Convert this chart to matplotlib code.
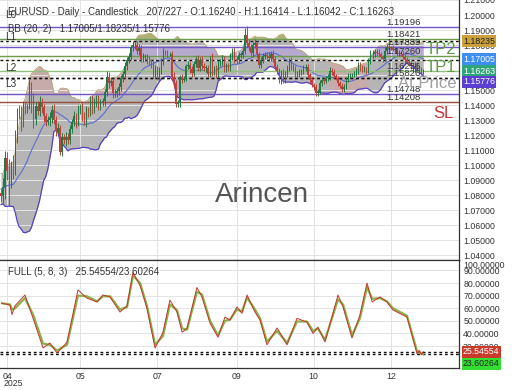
import matplotlib
matplotlib.use('Agg')
import matplotlib.pyplot as plt
import numpy as np
import pandas as pd

plt.rcParams['font.family'] = ['Liberation Sans', 'DejaVu Sans']

# ---------------- data ----------------
pre_closes = [1.0626, 1.0790, 1.0784, 1.0833, 1.0834, 1.0918, 1.0890, 1.0853, 1.0879, 1.0922,
              1.0943, 1.0899, 1.0853, 1.0816, 1.0801, 1.0790, 1.0752, 1.0800, 1.0829, 1.0816]

closes_apr = [1.0794, 1.0852, 1.1048, 1.0960, 1.0910, 1.0958, 1.0950, 1.1195, 1.1358, 1.1350, 1.1285,
              1.1398, 1.1366, 1.1395, 1.1512, 1.1417, 1.1310, 1.1392, 1.1363, 1.1420, 1.1385, 1.1328]
closes_may = [1.1290, 1.1298, 1.1315, 1.1370, 1.1300, 1.1230, 1.1250, 1.1090, 1.1190, 1.1170, 1.1190,
              1.1165, 1.1240, 1.1285, 1.1330, 1.1280, 1.1365, 1.1385, 1.1325, 1.1290, 1.1370, 1.1350]
closes_jun = [1.1440, 1.1370, 1.1420, 1.1445, 1.1395, 1.1420, 1.1425, 1.1485, 1.1585, 1.1550, 1.1560,
              1.1480, 1.1480, 1.1495, 1.1520, 1.1580, 1.1610, 1.1660, 1.1700, 1.1720, 1.1787]
closes_jul = [1.1800, 1.1800, 1.1760, 1.1780, 1.1710, 1.1720, 1.1720, 1.1700, 1.1690, 1.1670, 1.1600,
              1.1640, 1.1595, 1.1625, 1.1690, 1.1755, 1.1750, 1.1740, 1.1740, 1.1590, 1.1545, 1.1410, 1.1415]
closes_aug = [1.1585, 1.1570, 1.1575, 1.1660, 1.1665, 1.1640, 1.1615, 1.1675, 1.1705, 1.1650, 1.1700,
              1.1660, 1.1650, 1.1650, 1.1610, 1.1720, 1.1620, 1.1640, 1.1605, 1.1680, 1.1685]
closes_sep = [1.1710, 1.1645, 1.1660, 1.1645, 1.1720, 1.1760, 1.1710, 1.1700, 1.1735, 1.1735, 1.1760,
              1.1865, 1.1815, 1.1785, 1.1745, 1.1800, 1.1815, 1.1740, 1.1665, 1.1700, 1.1725, 1.1735]
closes_oct = [1.1730, 1.1715, 1.1740, 1.1710, 1.1655, 1.1630, 1.1565, 1.1615, 1.1570, 1.1605, 1.1645,
              1.1690, 1.1655, 1.1645, 1.1605, 1.1610, 1.1620, 1.1625, 1.1645, 1.1655, 1.1600, 1.1565, 1.1535]
closes_nov = [1.1520, 1.1480, 1.1490, 1.1545, 1.1565, 1.1560, 1.1580, 1.1590, 1.1630, 1.1620,
              1.1595, 1.1580, 1.1545, 1.1530, 1.1510, 1.1520, 1.1570, 1.1595, 1.1600, 1.1600]
closes_dec = [1.1610, 1.1625, 1.1665, 1.1645, 1.1640, 1.1640, 1.1630, 1.1695, 1.1740, 1.1740, 1.1755,
              1.1750, 1.1740, 1.1720, 1.1710, 1.1760, 1.1790, 1.1780, 1.1785, 1.1770, 1.1770, 1.1745, 1.1745]
closes_jan = [1.1740, 1.1720, 1.1700, 1.1690, 1.1680, 1.1660, 1.1640, 1.1665, 1.1645, 1.1640, 1.1624, 1.16263]

up_wick_pips = (
    [25, 60, 45, 40, 80, 70, 110, 40, 25, 40, 45, 30, 20, 15, 60, 40, 60, 25, 35, 40, 30, 25] +
    [20, 30, 40, 30, 35, 25, 30, 20, 25, 20, 30, 25, 30, 25, 30, 20, 35, 25, 30, 30, 25, 20] +
    [20, 30, 25, 25, 20, 20, 20, 25, 45, 35, 25, 20, 30, 20, 25, 20, 20, 30, 20, 25, 15] +
    [25, 20, 30, 25, 20, 25, 20, 20, 25, 20, 35, 30, 20, 30, 25, 25, 15, 20, 15, 20, 30, 25, 20] +
    [15, 25, 20, 15, 30, 25, 20, 20, 20, 30, 20, 25, 20, 20, 20, 10, 30, 20, 25, 20, 20] +
    [25, 20, 20, 20, 25, 20, 30, 20, 20, 20, 20, 50, 65, 25, 20, 20, 25, 15, 15, 20, 20, 20] +
    [20, 25, 20, 25, 20, 20, 15, 20, 25, 20, 20, 25, 30, 20, 15, 15, 20, 15, 20, 20, 20, 15, 15] +
    [15, 20, 15, 20, 20, 15, 15, 20, 25, 20, 20, 15, 15, 15, 15, 20, 20, 20, 15, 15] +
    [20, 20, 20, 25, 20, 20, 15, 20, 30, 25, 20, 20, 25, 15, 15, 25, 20, 15, 10, 15, 15, 20, 20] +
    [10, 20, 20, 20, 15, 15, 20, 25, 20, 20, 15, 15])
dn_wick_pips = (
    [40, 45, 80, 60, 180, 60, 40, 15, 45, 40, 60, 30, 25, 20, 20, 70, 60, 40, 30, 35, 35, 40] +
    [30, 25, 40, 35, 25, 35, 25, 25, 30, 30, 40, 25, 25, 25, 25, 35, 20, 25, 30, 25, 35, 30] +
    [20, 30, 25, 30, 25, 25, 25, 30, 25, 35, 25, 30, 25, 25, 30, 25, 25, 20, 25, 20, 20] +
    [25, 25, 20, 25, 20, 20, 25, 25, 20, 25, 20, 25, 25, 30, 20, 25, 15, 20, 15, 20, 30, 25, 25] +
    [25, 20, 15, 15, 20, 25, 25, 20, 20, 20, 25, 20, 25, 30, 20, 25, 25, 20, 25, 20, 20] +
    [20, 25, 25, 20, 20, 20, 30, 25, 20, 20, 20, 20, 30, 25, 20, 25, 20, 25, 15, 15, 20, 20] +
    [25, 15, 20, 20, 20, 20, 20, 25, 20, 20, 20, 15, 20, 20, 15, 15, 20, 20, 20, 20, 20, 20, 15] +
    [20, 20, 20, 15, 20, 20, 15, 20, 20, 20, 15, 15, 20, 15, 20, 20, 15, 15, 15, 15] +
    [15, 15, 15, 20, 20, 20, 20, 15, 20, 25, 20, 20, 20, 15, 20, 15, 20, 15, 10, 10, 20, 15, 15] +
    [15, 15, 20, 15, 20, 20, 20, 20, 15, 20, 25, 20])

month_ticks = [3, 39, 77, 116, 154, 192]
month_labels = ['04', '05', '07', '09', '10', '12']
year_label = '2025'

level_prices = [1.19196, 1.18421, 1.17889, 1.17260, 1.16256, 1.15826, 1.14748, 1.14208]
level_texts = ['1.19196', '1.18421', '1.17889', '1.17260', '1.16256', '1.15826', '1.14748', '1.14208']
level_colors = ['#6f55c8', '#6d9a4e', '#6f55c8', '#6d9a4e', '#8fbf7a', '#222222', '#6f55c8', '#9b4a3c']
level_styles = ['-', '-', '-', '-', '-', ':', '-', '-']

bb_mid_last, bb_up_last, bb_lo_last = 1.17005, 1.18235, 1.15776
last_close = 1.16263
title_text = 'EURUSD - Daily - Candlestick   207/227 - O:1.16240 - H:1.16414 - L:1.16042 - C:1.16263'
bb_text = 'BB (20, 2)   1.17005/1.18235/1.15776'
stoch_text = 'FULL (5, 8, 3)   25.54554/23.60264'
stoch_k_last, stoch_d_last = 25.54554, 23.60264

stoch_bar = [0.5, 4.4, 5.4, 6.9, 11.8, 15.8, 20.7, 24.1, 27.6, 32.5, 37.9, 42.4, 47.3, 50.2, 53.7, 58.6,
             62.1, 65.0, 68.5, 71.9, 75.9, 79.8, 83.2, 86.7, 89.2, 91.6, 96.5, 99.0, 103.0, 106.9, 110.3,
             112.8, 116.2, 118.7, 121.2, 125.1, 127.6, 131.0, 136.0, 140.9, 145.8, 150.7, 153.7, 156.1,
             159.6, 166.0, 168.5, 172.9, 176.8, 180.3, 182.8, 186.7, 190.1, 193.1, 200.0, 204.9, 206.0,
             207.0, 208.0]
stoch_k = [64, 62.6, 55, 62, 70.5, 52, 28.5, 32.4, 24.5, 33, 74.5, 68, 65, 70.5, 69, 57, 62, 88.5, 78, 60,
           28.5, 41, 66.5, 57, 41, 44, 76.5, 69, 48, 37, 53, 50.6, 61, 56, 70.5, 57, 50.7, 31, 44.4, 31,
           52, 49, 40, 45, 33.3, 70.5, 61, 36.4, 54.7, 80, 65, 69, 65, 58.6, 53, 24, 26.5, 23, 25.5]
stoch_d = [64, 63, 59, 60, 68, 55, 32, 31, 26.5, 31, 70, 69.5, 65.5, 69.5, 69.5, 59, 61, 86, 80, 62, 31,
           38, 63, 58.5, 44, 43, 73, 71, 50, 38.5, 50, 51, 59, 57.5, 68.5, 59, 52, 33.5, 42, 32.5, 49.5,
           49.5, 42, 44, 35, 67, 63, 38.5, 52, 77, 67.5, 68, 65.5, 60, 54, 26, 25.5, 24.5, 23.6]

# ---------------- derived ----------------
closes = (closes_apr + closes_may + closes_jun + closes_jul + closes_aug + closes_sep +
          closes_oct + closes_nov + closes_dec + closes_jan)
n = len(closes)
opens = [pre_closes[-1]] + closes[:-1]
opens[-1] = 1.16240
highs = [max(o, c) + u * 1e-4 for o, c, u in zip(opens, closes, up_wick_pips)]
lows = [min(o, c) - d * 1e-4 for o, c, d in zip(opens, closes, dn_wick_pips)]
xs = np.arange(n)

allc = pd.Series(pre_closes + closes)
mid = allc.rolling(20).mean().values[-n:]
sd = allc.rolling(20).std(ddof=0).values[-n:]
upper = mid + 2 * sd
lower = mid - 2 * sd

# ---------------- figure ----------------
W, H = 520, 390
fig = plt.figure(figsize=(W / 100, H / 100), dpi=100)
fig.patch.set_facecolor('white')


def fx(px):
    return px / W


def fy(py):
    return 1 - py / H


ax1 = fig.add_axes([0, fy(260), fx(459), 260 / H])
ax2 = fig.add_axes([0, fy(368), fx(459), 108 / H])

xlim = (-0.5, 225.6)
for ax in (ax1, ax2):
    ax.set_xlim(*xlim)
    ax.set_facecolor('white')
    ax.set_xticks(month_ticks)
    ax.grid(True, color='#e3e3e3', lw=0.7, zorder=0)
    ax.yaxis.tick_right()
    ax.tick_params(axis='both', length=0, labelsize=6.3, colors='#333333', pad=3)
    ax.spines['left'].set_visible(False)
    for s in ('right', 'bottom', 'top'):
        ax.spines[s].set_color('#333333')
        ax.spines[s].set_linewidth(0.9)

ax1.spines['top'].set_visible(False)
ax1.set_ylim(1.03673, 1.20869)
ax1.set_yticks(np.round(np.arange(1.04, 1.2101, 0.01), 2))
ax1.set_yticklabels(['%.5f' % v for v in np.arange(1.04, 1.2101, 0.01)])
ax1.set_xticklabels([])

# Bollinger band with zone tints
ax1.fill_between(xs, lower, upper, color='#a0a0a0', alpha=0.78, lw=0, zorder=1)
tp2, l1, tp1, at_p, l3 = level_prices[1], level_prices[2], level_prices[3], level_prices[4], level_prices[6]
ax1.fill_between(xs, tp2, upper, where=upper > tp2, interpolate=True,
                 color='#a6b04a', alpha=0.6, lw=0, zorder=1.2)
lz_top = np.minimum(upper, l1)
lz_bot = np.maximum(lower, tp1)
ax1.fill_between(xs, lz_bot, lz_top, where=lz_top > lz_bot, interpolate=True,
                 color='#b7a2e6', alpha=0.55, lw=0, zorder=1.2)
pz_top = np.minimum(upper, 1.1700)
pz_bot = np.maximum(lower, l3)
ax1.fill_between(xs, pz_bot, pz_top, where=(pz_top > pz_bot) & (upper < 1.1700), interpolate=True,
                 color='#d9a0a0', alpha=0.5, lw=0, zorder=1.2)
ax1.plot(xs, upper, color='#b5a36a', lw=0.6, zorder=2)
ax1.plot(xs, mid, color='#5b6fd0', lw=0.8, zorder=2)
ax1.plot(xs, lower, color='#5a3fc0', lw=0.9, zorder=2)

# levels
for p, c, ls in zip(level_prices, level_colors, level_styles):
    ax1.axhline(p, color=c, lw=1.0, ls=ls if ls != ':' else (0, (2, 2)), zorder=2.2)
for p in (bb_up_last, bb_mid_last, bb_lo_last):
    ax1.axhline(p, color='#111111', lw=1.0, ls=(0, (2, 2)), zorder=2.3)

# candles
up_c, dn_c = '#1f7a45', '#c2403a'
cols = [up_c if c >= o else dn_c for o, c in zip(opens, closes)]
ax1.vlines(xs, lows, highs, colors=cols, lw=0.7, zorder=3)
body_bottom = [min(o, c) for o, c in zip(opens, closes)]
body_h = [max(abs(c - o), 0.0002) for o, c in zip(opens, closes)]
ax1.bar(xs, body_h, bottom=body_bottom, width=0.6, color=cols, lw=0, zorder=3.1)

# level labels
lab_x = fx(386) / fx(459) * (xlim[1] - xlim[0]) + xlim[0]
for p, t in zip(level_prices, level_texts):
    ax1.text(lab_x, p, t, fontsize=6.8, color='#333333', va='bottom', ha='left', zorder=5)

# stochastic panel
ax2.set_ylim(12.6, 98.3)
ax2.set_yticks([30, 40, 50, 60, 70, 80, 90])
ax2.set_yticklabels(['%.5f' % v for v in [30, 40, 50, 60, 70, 80, 90]])
ax2.set_xticklabels(month_labels)
ax2.plot(stoch_bar, stoch_d, color='#8db04a', lw=1.6, zorder=3)
ax2.plot(stoch_bar, stoch_k, color='#c0392b', lw=0.7, zorder=3.2)
ax2.axhline(stoch_k_last, color='#111111', lw=1.0, ls=(0, (2, 2)), zorder=2)
ax2.axhline(stoch_d_last, color='#111111', lw=1.0, ls=(0, (2, 2)), zorder=2)

# texts
fig.text(fx(8), fy(12), title_text, fontsize=7, color='#333333', va='center', ha='left')
fig.text(fx(8), fy(29), bb_text, fontsize=7, color='#333333', va='center', ha='left')
fig.text(fx(8), fy(272), stoch_text, fontsize=7, color='#333333', va='center', ha='left')
for lab, yy in (('L0', 15), ('L1', 37), ('L2', 68), ('L3', 84)):
    fig.text(fx(5), fy(yy), lab, fontsize=7.2, color='#333333', va='center', ha='left')
fig.text(fx(4), fy(383), year_label, fontsize=6.3, color='#333333', va='center', ha='left')
fig.text(fx(505), fy(266), '100.00000', fontsize=6.3, color='#333333', va='center', ha='right')

fig.text(fx(456), fy(49), 'TP2', fontsize=12, color='#5f9a45', va='center', ha='right')
fig.text(fx(456), fy(68), 'TP1', fontsize=12, color='#5f9a45', va='center', ha='right')
fig.text(fx(456), fy(83), 'At Price', fontsize=12, color='#a0a0a0', va='center', ha='right')
fig.text(fx(454), fy(114), 'SL', fontsize=12, color='#cc3333', va='center', ha='right')

fig.text(fx(262), fy(195), 'Arincen', fontsize=20, color='#555555', va='center', ha='center')

# value boxes on right axis
boxes = [(41, '%.5f' % bb_up_last, '#c9a03c', '#222222'),
         (59, '%.5f' % bb_mid_last, '#3d8ef0', 'white'),
         (71, '%.5f' % last_close, '#2fa57a', 'white'),
         (82, '%.5f' % bb_lo_last, '#5a3fd0', 'white'),
         (352, '%.5f' % stoch_k_last, '#c93a2a', 'white'),
         (364, '%.5f' % stoch_d_last, '#33dd33', '#222222')]
for yy, t, bg, fg in boxes:
    fig.text(fx(463), fy(yy), t, fontsize=6.3, color=fg, va='center', ha='left',
             bbox=dict(boxstyle='square,pad=0.15', fc=bg, ec='none'))

fig.savefig('out.png', dpi=100, facecolor='white')
